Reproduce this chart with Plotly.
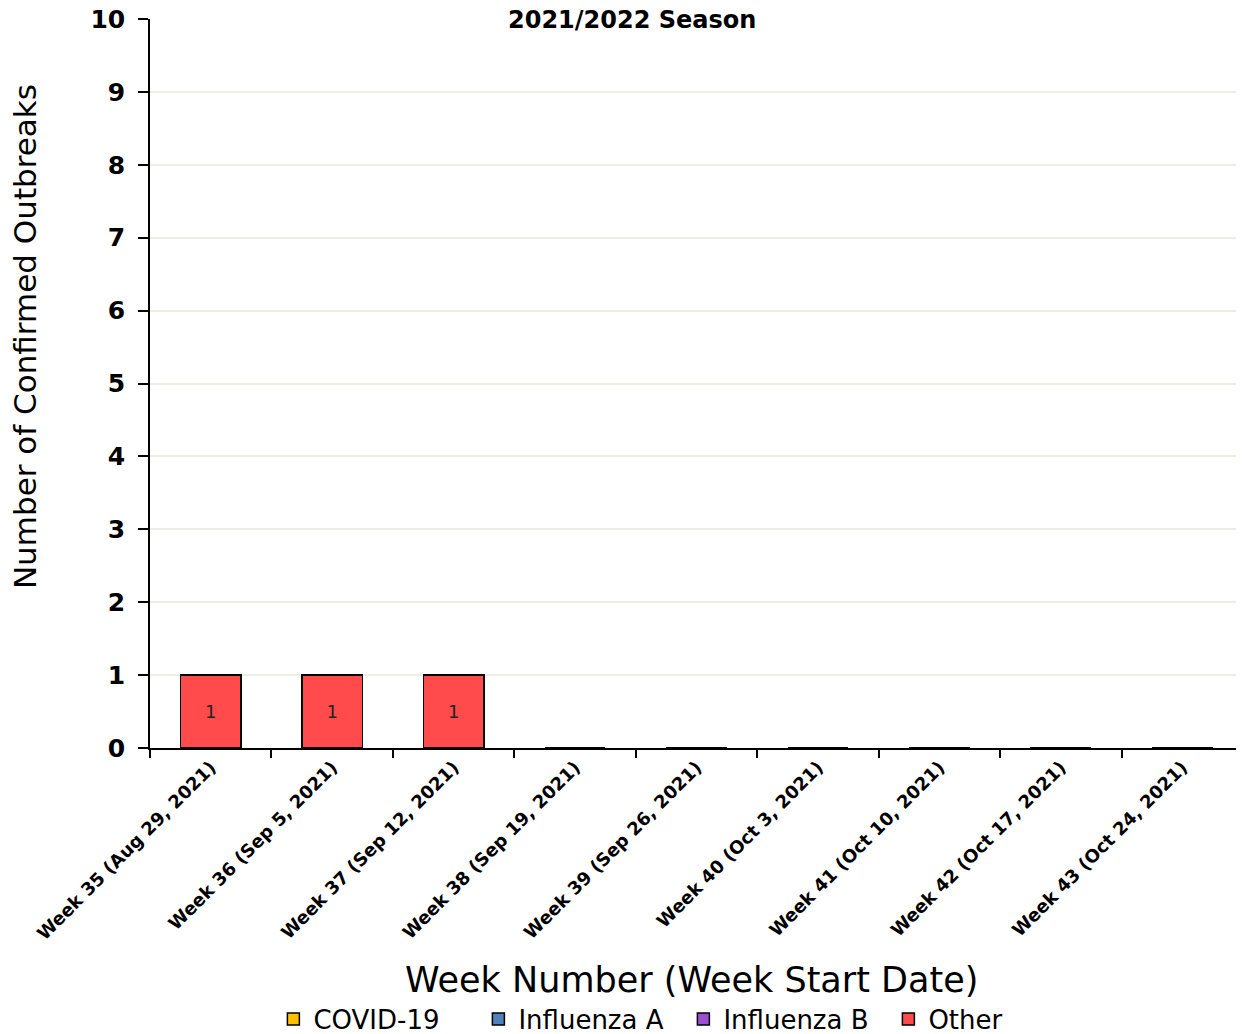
import plotly.graph_objects as go

weeks = ["Week 35 (Aug 29, 2021)", "Week 36 (Sep 5, 2021)", "Week 37 (Sep 12, 2021)",
         "Week 38 (Sep 19, 2021)", "Week 39 (Sep 26, 2021)", "Week 40 (Oct 3, 2021)",
         "Week 41 (Oct 10, 2021)", "Week 42 (Oct 17, 2021)", "Week 43 (Oct 24, 2021)"]
covid = [0, 0, 0, 0, 0, 0, 0, 0, 0]
flu_a = [0, 0, 0, 0, 0, 0, 0, 0, 0]
flu_b = [0, 0, 0, 0, 0, 0, 0, 0, 0]
other = [1, 1, 1, 0, 0, 0, 0, 0, 0]
y_ticks = [0, 1, 2, 3, 4, 5, 6, 7, 8, 9, 10]

series = [("COVID-19", covid, "#FFC000"), ("Influenza A", flu_a, "#4F81BD"),
          ("Influenza B", flu_b, "#9B4FD0"), ("Other", other, "#FF4B4B")]

font = "DejaVu Sans, sans-serif"
fig = go.Figure()
for name, vals, col in series:
    fig.add_trace(go.Bar(
        x=weeks, y=vals, name=name,
        marker=dict(color=col, line=dict(color="#000000", width=1.5)),
        text=[str(v) if v else "" for v in vals], textposition="inside",
        insidetextanchor="middle", textangle=0,
        textfont=dict(size=18, color="#222222", family=font),
    ))

W, H = 1236, 1026
fig.update_layout(
    width=W, height=H,
    barmode="stack", bargap=0.5,
    plot_bgcolor="white", paper_bgcolor="white",
    margin=dict(l=142, r=1, t=11, b=286, autoexpand=False),
    font=dict(family=font, color="#000000"),
    title=dict(text="<b>2021/2022 Season</b>", x=0.505, xanchor="center",
               yref="container", y=1.0, yanchor="top", pad=dict(t=3, b=0),
               font=dict(size=24, family=font)),
    legend=dict(orientation="h", x=0.488, xanchor="center", y=-0.372, yanchor="middle",
                font=dict(size=26, family=font), itemwidth=30,
                entrywidth=160, entrywidthmode="pixels",
                traceorder="normal"),
    showlegend=True,
    annotations=[
        dict(text="Week Number (Week Start Date)", xref="paper", yref="paper",
             x=0.495, y=-0.318, xanchor="center", yanchor="middle", showarrow=False,
             font=dict(size=35, family=font)),
        dict(text="Number of Confirmed Outbreaks", xref="paper", yref="paper",
             x=-0.1144, y=0.565, xanchor="center", yanchor="middle", showarrow=False,
             textangle=-90, font=dict(size=31, family=font)),
    ],
)
fig.update_xaxes(
    type="category", tickangle=-45, tickson="boundaries", ticks="outside", ticklen=8,
    tickwidth=1.5, tickcolor="#000000", automargin=False, ticklabeloverflow="allow",
    showline=True, linecolor="#000000", linewidth=1.5, showgrid=False,
    tickfont=dict(size=18, family=font, weight="bold"),
)
fig.update_yaxes(
    range=[0, 10], tickvals=y_ticks, ticks="outside", ticklen=10, tickwidth=1.5,
    tickcolor="#000000", showline=True, linecolor="#000000", linewidth=1.5,
    showgrid=True, gridcolor="#EDEDE3", gridwidth=1.5, zeroline=False, automargin=False,
    ticklabeloverflow="allow",
    tickfont=dict(size=25, family=font, weight="bold"), ticklabelstandoff=8,
)
fig.write_html("out.html")
